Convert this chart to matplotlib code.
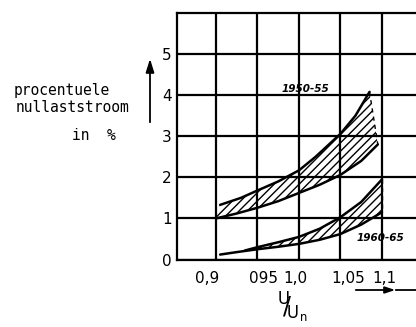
import numpy as np
import matplotlib
matplotlib.use('Agg')
import matplotlib.pyplot as plt
from matplotlib.transforms import ScaledTranslation

# 1950-55 band (upper and lower edge)
u_5055_hi = [0.905, 0.93, 0.95, 0.975, 1.0, 1.02, 1.05, 1.068, 1.085]
i_5055_hi = [1.33, 1.5, 1.68, 1.9, 2.17, 2.5, 3.06, 3.5, 4.08]
u_5055_lo = [0.9, 0.925, 0.95, 0.975, 1.0, 1.025, 1.05, 1.075, 1.095]
i_5055_lo = [1.0, 1.12, 1.26, 1.42, 1.62, 1.82, 2.06, 2.4, 2.8]

# 1960-65 band
u_6065_hi = [0.935, 0.95, 0.975, 1.0, 1.025, 1.05, 1.075, 1.1]
i_6065_hi = [0.22, 0.3, 0.42, 0.55, 0.75, 1.03, 1.4, 1.95]
u_6065_lo = [0.905, 0.925, 0.95, 0.975, 1.0, 1.025, 1.05, 1.075, 1.1]
i_6065_lo = [0.12, 0.18, 0.25, 0.31, 0.38, 0.48, 0.62, 0.85, 1.15]

x_ticks = [0.9, 0.95, 1.0, 1.05, 1.1]
x_ticklabels = ['0,9', '095', '1,0', '1,05', '1,1']
y_ticks = [0, 1, 2, 3, 4, 5]
band_labels = ['1950-55', '1960-65']

W, H = 416, 327


def fx(px):
    return px / W


def fy(py):
    return 1 - py / H


def main():
    plt.rcParams['hatch.linewidth'] = 1.0
    fig = plt.figure(figsize=(W / 100, H / 100), dpi=100)
    ax = fig.add_axes([fx(177), fy(259.5), 1 - fx(177), fy(13) - fy(259.5)])

    ax.set_xlim(0.853, 1.141)
    ax.set_ylim(0, 6)
    ax.set_xticks(x_ticks)
    ax.set_xticklabels(x_ticklabels)
    ax.set_yticks(y_ticks)
    ax.tick_params(length=0, labelsize=11)
    ax.tick_params(axis='x', pad=8)
    ax.tick_params(axis='y', pad=4)
    ax.grid(True, color='black', lw=1.6)
    ax.set_axisbelow(True)
    for s in ['left', 'top', 'bottom']:
        ax.spines[s].set_linewidth(1.6)
    ax.spines['right'].set_visible(False)

    # hand-drawn labels sit a bit off their gridlines
    offsets = [-9, 6, -4, 8, 2]
    for lab, dx in zip(ax.get_xticklabels(), offsets):
        lab.set_transform(lab.get_transform() + ScaledTranslation(dx / 100, 0, fig.dpi_scale_trans))

    bands = [
        (u_5055_hi, i_5055_hi, u_5055_lo, i_5055_lo),
        (u_6065_hi, i_6065_hi, u_6065_lo, i_6065_lo),
    ]
    for uh, ih, ul, il in bands:
        px = np.r_[uh, ul[::-1]]
        py = np.r_[ih, il[::-1]]
        ax.fill(px, py, facecolor='none', edgecolor='black', hatch='////', linewidth=0)
        ax.plot(uh, ih, color='black', lw=1.8, solid_capstyle='round', solid_joinstyle='round')
        ax.plot(ul, il, color='black', lw=1.8, solid_capstyle='round', solid_joinstyle='round')
        ax.plot([uh[-1], ul[-1]], [ih[-1], il[-1]], color='black', lw=1.0, ls=(0, (3, 3)))

    ax.text(1.008, 4.14, band_labels[0], fontsize=7.5, fontstyle='italic', fontweight='bold',
            ha='center', va='center')
    ax.text(1.098, 0.53, band_labels[1], fontsize=7.5, fontstyle='italic', fontweight='bold',
            ha='center', va='center')

    # y label
    mono = 'DejaVu Sans Mono'
    fig.text(fx(14), fy(90), 'procentuele', family=mono, fontsize=10.5, va='center')
    fig.text(fx(16), fy(108), 'nullaststroom', family=mono, fontsize=10.5, va='center')
    fig.text(fx(72), fy(135), 'in  %', family=mono, fontsize=10.5, va='center')
    fig.patches.append(matplotlib.patches.FancyArrowPatch(
        (fx(150), fy(125)), (fx(150), fy(56)), transform=fig.transFigure,
        arrowstyle='-|>,head_length=8,head_width=2.5', lw=1.3, color='black'))

    # x label  U/Un
    fig.text(fx(292), fy(308), r'$\mathregular{^{U}\!\!/\!_{U_n}}$', fontsize=17,
             ha='center', va='center')

    # direction arrow under the x axis
    fig.patches.append(matplotlib.patches.FancyArrowPatch(
        (fx(353), fy(290)), (fx(398), fy(290)), transform=fig.transFigure,
        arrowstyle='-|>,head_length=6,head_width=2', lw=1.3, color='black'))
    fig.lines.append(matplotlib.lines.Line2D([fx(396), fx(416)], [fy(290), fy(290)],
                                             transform=fig.transFigure, color='black', lw=1.3))

    fig.savefig('out.png', dpi=100, facecolor='white')


if __name__ == '__main__':
    main()
